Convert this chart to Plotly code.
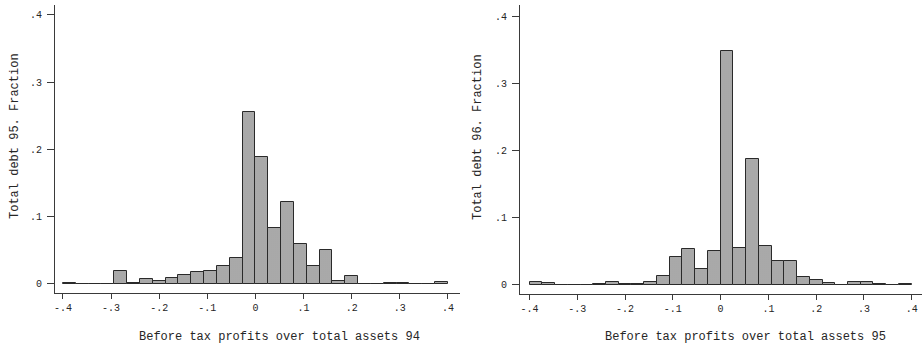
import numpy as np
import plotly.graph_objects as go

# ---- data ----
bin_edges = np.linspace(-0.4, 0.4, 31)          # 30 histogram bins
left_fraction = [0.001, 0, 0.0005, 0.0005, 0.020, 0.001, 0.007, 0.005, 0.009, 0.013,
                 0.018, 0.020, 0.026, 0.039, 0.256, 0.188, 0.083, 0.122, 0.059, 0.027,
                 0.050, 0.005, 0.012, 0.0005, 0.0005, 0.002, 0.002, 0, 0, 0.003]
right_fraction = [0.005, 0.003, 0.0005, 0.0005, 0, 0.001, 0.005, 0.002, 0.002, 0.005,
                  0.014, 0.042, 0.054, 0.024, 0.051, 0.348, 0.055, 0.187, 0.058, 0.035,
                  0.035, 0.012, 0.008, 0.003, 0.0005, 0.005, 0.004, 0.002, 0.0005, 0.002]
x_tick_vals = [-0.4, -0.3, -0.2, -0.1, 0, 0.1, 0.2, 0.3, 0.4]
x_tick_text = ["-.4", "-.3", "-.2", "-.1", "0", ".1", ".2", ".3", ".4"]
y_tick_vals = [0, 0.1, 0.2, 0.3, 0.4]
y_tick_text = ["0", ".1", ".2", ".3", ".4"]
left_xtitle = "Before tax profits over total assets 94"
right_xtitle = "Before tax profits over total assets 95"
left_ytitle = "Total debt 95. Fraction"
right_ytitle = "Total debt 96. Fraction"

centers = (bin_edges[:-1] + bin_edges[1:]) / 2
bw = bin_edges[1] - bin_edges[0]

W, H = 923, 349
FONT = "Liberation Mono, Courier New, monospace"
INK = "#262626"

fig = go.Figure()
bar_style = dict(
    marker=dict(color="#a9a9a9",
                line=dict(color="#2a2a2a", width=1),
                pattern=dict(shape=".", fgcolor="#6e6e6e", bgcolor="#b6b6b6", size=2, solidity=0.4)),
    width=[bw] * len(centers), showlegend=False, hoverinfo="skip")
fig.add_trace(go.Bar(x=centers, y=left_fraction, xaxis="x", yaxis="y", **bar_style))
fig.add_trace(go.Bar(x=centers, y=right_fraction, xaxis="x2", yaxis="y2", **bar_style))

def px_x(p):
    return p / W

def px_y(p):
    return 1 - p / H

axis_common = dict(showgrid=False, zeroline=False, showline=True, linecolor="#3a3a3a", linewidth=1,
                   ticks="outside", tickcolor="#3a3a3a", tickwidth=1,
                   tickfont=dict(family=FONT, size=10, color=INK))

fig.update_layout(
    width=W, height=H, margin=dict(l=0, r=0, t=0, b=0),
    paper_bgcolor="white", plot_bgcolor="white", bargap=0,
    xaxis=dict(domain=[px_x(55), px_x(460)], range=[-0.4166, 0.425], anchor="y",
               tickvals=x_tick_vals, ticktext=x_tick_text, ticklen=5, **axis_common),
    yaxis=dict(domain=[px_y(293), px_y(5)], range=[-0.0134, 0.4146], anchor="x",
               tickvals=y_tick_vals, ticktext=y_tick_text, ticklen=7,
               ticklabelstandoff=3, **axis_common),
    xaxis2=dict(domain=[px_x(520), px_x(922)], range=[-0.420, 0.4216], anchor="y2",
                tickvals=x_tick_vals, ticktext=x_tick_text, ticklen=5, **axis_common),
    yaxis2=dict(domain=[px_y(294), px_y(5)], range=[-0.0134, 0.4164], anchor="x2",
                tickvals=y_tick_vals, ticktext=y_tick_text, ticklen=7,
                ticklabelstandoff=3, **axis_common),
)

ann_font = dict(family=FONT, size=12, color=INK)
fig.add_annotation(x=px_x(279), y=px_y(337), xref="paper", yref="paper", text=left_xtitle,
                   showarrow=False, font=ann_font, xanchor="center", yanchor="middle")
fig.add_annotation(x=px_x(745), y=px_y(337), xref="paper", yref="paper", text=right_xtitle,
                   showarrow=False, font=ann_font, xanchor="center", yanchor="middle")
fig.add_annotation(x=px_x(15), y=px_y(136), xref="paper", yref="paper", text=left_ytitle,
                   showarrow=False, font=ann_font, textangle=-90, xanchor="center", yanchor="middle")
fig.add_annotation(x=px_x(478), y=px_y(137), xref="paper", yref="paper", text=right_ytitle,
                   showarrow=False, font=ann_font, textangle=-90, xanchor="center", yanchor="middle")

fig.write_html("out.html")
